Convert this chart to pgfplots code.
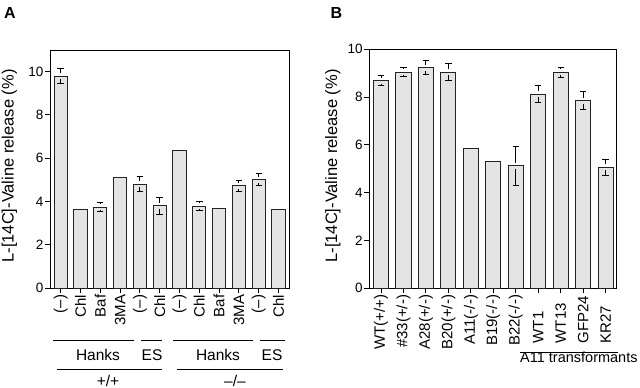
\documentclass[border=0pt]{standalone}
\usepackage{fontspec}
\setmainfont{Liberation Sans}
\usepackage{pgfplots}
\usepackage{pgfplotstable}
\pgfplotsset{compat=1.18}
\definecolor{barfill}{HTML}{E3E4E3}
\definecolor{barline}{HTML}{222222}

\pgfplotstableread{
x y
0 9.80
1 3.63
2 3.74
3 5.11
4 4.80
5 3.80
6 6.37
7 3.78
8 3.68
9 4.72
10 5.00
11 3.62
}\dataA
\pgfplotstableread{
x y e
0 9.80 0.34
2 3.74 0.20
4 4.80 0.34
5 3.80 0.40
7 3.78 0.20
9 4.72 0.25
10 5.00 0.28
}\errA
\pgfplotstableread{
x y
0 8.69
1 9.05
2 9.23
3 9.05
4 5.84
5 5.30
6 5.13
7 8.13
8 9.05
9 7.85
10 5.06
}\dataB
\pgfplotstableread{
x y e
0 8.69 0.21
1 9.05 0.20
2 9.23 0.29
3 9.05 0.35
6 5.13 0.82
7 8.13 0.35
8 9.05 0.21
9 7.85 0.38
10 5.06 0.35
}\errB

\pgfplotsset{
  myaxis/.style={
    scale only axis, anchor=south west, clip=false,
    axis line style={line width=0.9bp, black},
    ymin=0, ytick={0,2,4,6,8,10},
    tick align=outside, major tick length=5bp, tick pos=left,
    tick style={black, line width=0.9bp},
    /pgf/number format/assume math mode=true,
    yticklabel style={font=\fontsize{13.5bp}{15bp}\selectfont, inner sep=1.5bp},
    xticklabel style={font=\fontsize{15bp}{17bp}\selectfont, rotate=90, anchor=east, inner sep=1.5bp},
  },
  mybar/.style={ybar, bar width=0.67, fill=barfill, draw=barline, line width=0.9bp},
  errplus/.style={forget plot, draw=none, mark=none,
    error bars/.cd, y dir=plus, y explicit,
    error bar style={draw=black, line width=0.9bp, shorten <=3bp},
    error mark options={rotate=90, mark size=3.2bp, draw=black, line width=0.9bp}},
  errminus/.style={forget plot, draw=none, mark=none,
    error bars/.cd, y dir=minus, y explicit,
    error bar style={draw=black, line width=0.9bp, shorten <=3bp},
    error mark options={rotate=90, mark size=3.2bp, draw=black, line width=0.9bp}},
}

\begin{document}
\begin{tikzpicture}
\path[use as bounding box] (0,0) rectangle (640bp,388bp);

% Panel A
\begin{axis}[myaxis, at={(50bp,100bp)}, width=239bp, height=238bp,
  xmin=-0.54, xmax=11.53, ymax=11,
  xtick={0,...,11},
  xticklabels={(–),Chl,Baf,3MA,(–),Chl,(–),Chl,Baf,3MA,(–),Chl}]
\addplot[mybar] table[x=x,y=y]{\dataA};
\addplot[errplus] table[x=x,y=y,y error=e]{\errA};
\addplot[errminus] table[x=x,y=y,y error=e]{\errA};
\end{axis}

% Panel B
\begin{axis}[myaxis, at={(369.3bp,99.7bp)}, width=247.4bp, height=239bp,
  xmin=-0.52, xmax=10.49, ymax=10,
  xtick={0,...,10},
  xticklabels={WT(+/+),\#33(+/-),A28(+/-),B20(+/-),A11(-/-),B19(-/-),B22(-/-),,,,}]
\addplot[mybar] table[x=x,y=y]{\dataB};
\addplot[errplus] table[x=x,y=y,y error=e]{\errB};
\addplot[errminus] table[x=x,y=y,y error=e]{\errB};
\node[rotate=90, anchor=west, font=\fontsize{15bp}{17bp}\selectfont] at ([yshift=-58.5bp]axis cs:7,0) {WT1};
\node[rotate=90, anchor=west, font=\fontsize{15bp}{17bp}\selectfont] at ([yshift=-58.5bp]axis cs:8,0) {WT13};
\node[rotate=90, anchor=west, font=\fontsize{15bp}{17bp}\selectfont] at ([yshift=-58.5bp]axis cs:9,0) {GFP24};
\node[rotate=90, anchor=west, font=\fontsize{15bp}{17bp}\selectfont] at ([yshift=-58.5bp]axis cs:10,0) {KR27};
\end{axis}

% Panel letters
\node[font=\fontsize{16bp}{18bp}\selectfont\bfseries] at (10bp,375bp) {A};
\node[font=\fontsize{16bp}{18bp}\selectfont\bfseries] at (336.5bp,375bp) {B};

% y labels
\node[rotate=90, anchor=base, font=\fontsize{16.5bp}{18bp}\selectfont] at (13.5bp,222bp) {L-[14C]-Valine release (\%)};
\node[rotate=90, anchor=base, font=\fontsize{16.5bp}{18bp}\selectfont] at (337bp,222bp) {L-[14C]-Valine release (\%)};

% group annotations
\begin{scope}[line width=0.9bp]
\draw (53bp,48bp) -- (134bp,48bp);
\draw (141bp,48bp) -- (162bp,48bp);
\draw (173bp,48bp) -- (253bp,48bp);
\draw (260bp,48bp) -- (285bp,48bp);
\draw (57bp,19bp) -- (162bp,19bp);
\draw (177bp,19bp) -- (283bp,19bp);
\draw (520bp,35.7bp) -- (618.3bp,35.7bp);
\end{scope}
\begin{scope}[every node/.style={font=\fontsize{15.5bp}{17bp}\selectfont}]
\node[anchor=base] at (98bp,27.3bp) {Hanks};
\node[anchor=base] at (152bp,27.3bp) {ES};
\node[anchor=base] at (218bp,27.3bp) {Hanks};
\node[anchor=base] at (272bp,27.3bp) {ES};
\node at (108bp,7.5bp) {+/+};
\node at (235bp,7.5bp) {–/–};
\end{scope}
\node[anchor=base west, inner sep=0pt, font=\fontsize{14.5bp}{16bp}\selectfont] at (520bp,25.5bp) {A11 transformants};
\end{tikzpicture}
\end{document}
